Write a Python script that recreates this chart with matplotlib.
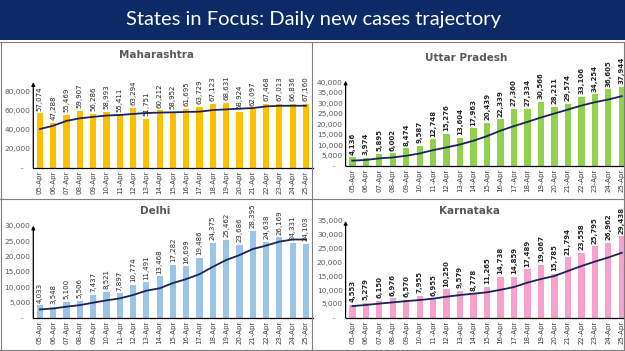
import matplotlib
matplotlib.use("Agg")
import matplotlib.pyplot as plt
from matplotlib.patches import Rectangle
from matplotlib.lines import Line2D

W, H = 625, 351

dates = ["05-Apr", "06-Apr", "07-Apr", "08-Apr", "09-Apr", "10-Apr", "11-Apr", "12-Apr",
         "13-Apr", "14-Apr", "15-Apr", "16-Apr", "17-Apr", "18-Apr", "19-Apr", "20-Apr",
         "21-Apr", "22-Apr", "23-Apr", "24-Apr", "25-Apr"]

maha_cases = [57074, 47288, 55469, 59907, 56286, 58993, 55411, 63294, 51751, 60212, 58952,
              61695, 63729, 67123, 68631, 58924, 62097, 67468, 67013, 66836, 67160]
maha_trend = [40700, 44200, 49300, 52000, 53500, 54900, 55500, 56600, 57600, 58000, 58300,
              58700, 59000, 60700, 61400, 62100, 62800, 64500, 65200, 65200, 65200]

up_cases = [4136, 3974, 5895, 6002, 8474, 9587, 12748, 15276, 13604, 17963, 20439,
            22339, 27360, 27334, 30566, 28211, 29574, 33106, 34254, 36605, 37944]
up_trend = [2550, 2900, 3650, 4100, 4900, 6000, 7600, 8900, 10300, 12100, 14300,
            16900, 19100, 21100, 23200, 25100, 27000, 28900, 30500, 31800, 33400]

delhi_cases = [4033, 3548, 5100, 5506, 7437, 8521, 7897, 10774, 11491, 13468, 17282,
               16699, 19486, 24375, 25462, 23686, 28395, 24638, 26169, 24331, 24103]
delhi_trend = [2700, 3000, 3600, 4100, 4900, 5650, 6300, 7400, 8800, 9600, 11300,
               12600, 14200, 16600, 18800, 20400, 22400, 23500, 24800, 25500, 25500]

kar_cases = [4553, 5279, 6150, 6976, 6570, 7955, 6955, 10250, 9579, 8778, 11265,
             14738, 14859, 17489, 19067, 15785, 21794, 23558, 25795, 26962, 29438]
kar_trend = [4200, 4600, 5100, 5550, 6000, 6400, 6900, 7600, 8200, 8700, 9200,
             10100, 11100, 12700, 14000, 15100, 16900, 18700, 20300, 21800, 23500]

fig = plt.figure(figsize=(W / 100, H / 100), dpi=100)
fig.patch.set_facecolor("white")


def px_rect(l, t, r, b):
    return [l / W, 1 - b / H, (r - l) / W, (b - t) / H]


# Banner
fig.patches.append(Rectangle((0, 1 - 40 / H), 1, 40 / H, transform=fig.transFigure,
                             facecolor="#0b2a66", edgecolor="none", zorder=0))
fig.text(313 / W, 1 - 20 / H, "States in Focus: Daily new cases trajectory", color="white",
         fontsize=14.5, family="Lato", ha="center", va="center")

# Panel borders
bc = "#7f7f7f"
for (x0, y0, x1, y1) in [(0.7, 42, 0.7, 350), (312, 42, 312, 350), (623.5, 42, 623.5, 350),
                         (0, 42, 625, 42), (0, 199, 625, 199), (0, 350, 625, 350)]:
    fig.add_artist(Line2D([x0 / W, x1 / W], [1 - y0 / H, 1 - y1 / H], transform=fig.transFigure,
                          color=bc, lw=0.8))

panels = [
    dict(name="Maharashtra", cases=maha_cases, trend=maha_trend, color="#FFC000",
         rect=(33.3, 82.2, 312.6, 167.7), ylim=90000, ticks=[0, 20000, 40000, 60000, 80000],
         title=(157, 55), bold=False),
    dict(name="Uttar Pradesh", cases=up_cases, trend=up_trend, color="#92D050",
         rect=(345.6, 80.7, 628.5, 166), ylim=40800,
         ticks=[0, 5000, 10000, 15000, 20000, 25000, 30000, 35000, 40000],
         title=(466, 58), bold=True),
    dict(name="Delhi", cases=delhi_cases, trend=delhi_trend, color="#9DC3E6",
         rect=(33.3, 225.7, 312.6, 317.7), ylim=30000,
         ticks=[0, 5000, 10000, 15000, 20000, 25000, 30000],
         title=(155, 211), bold=False),
    dict(name="Karnataka", cases=kar_cases, trend=kar_trend, color="#F7A1CF",
         rect=(345.6, 221, 628.5, 317.7), ylim=35000,
         ticks=[0, 5000, 10000, 15000, 20000, 25000, 30000, 35000],
         title=(469, 211), bold=True),
]

for p in panels:
    ax = fig.add_axes(px_rect(*p["rect"]))
    ax.set_facecolor("none")
    x = list(range(len(dates)))
    ax.bar(x, p["cases"], width=0.47, color=p["color"], zorder=2)
    ax.plot(x, p["trend"], color="#1b2459", lw=1.3, zorder=3)
    ax.set_xlim(-0.5, len(dates) - 0.5)
    ax.set_ylim(0, p["ylim"])
    ax.set_xticks(x)
    ax.set_xticklabels(dates, rotation=90, fontsize=5, color="#404040")
    ax.set_yticks(p["ticks"])
    ax.set_yticklabels(["-   "] + [f"{t:,}" for t in p["ticks"][1:]], fontsize=5.3, color="#595959")
    ax.tick_params(length=0, pad=2)
    for s in ["top", "right", "left"]:
        ax.spines[s].set_visible(False)
    ax.spines["bottom"].set_color("black")
    ax.spines["bottom"].set_linewidth(0.9)
    ax.annotate("", xy=(0, 1.0), xytext=(0, 0), xycoords="axes fraction",
                arrowprops=dict(arrowstyle="-|>", color="black", lw=0.9, mutation_scale=5,
                                shrinkA=0, shrinkB=0))
    for xi, v in zip(x, p["cases"]):
        ax.annotate(f"{v:,}", xy=(xi, v), xytext=(0, 2), textcoords="offset points",
                    rotation=90, ha="center", va="bottom", fontsize=5,
                    color="#262626", fontweight="bold" if p["bold"] else "normal",
                    annotation_clip=False)
    fig.text(p["title"][0] / W, 1 - p["title"][1] / H, p["name"], fontsize=7.5,
             fontweight="bold", color="#595959", ha="center", va="center")

fig.savefig("out.png", dpi=100)
